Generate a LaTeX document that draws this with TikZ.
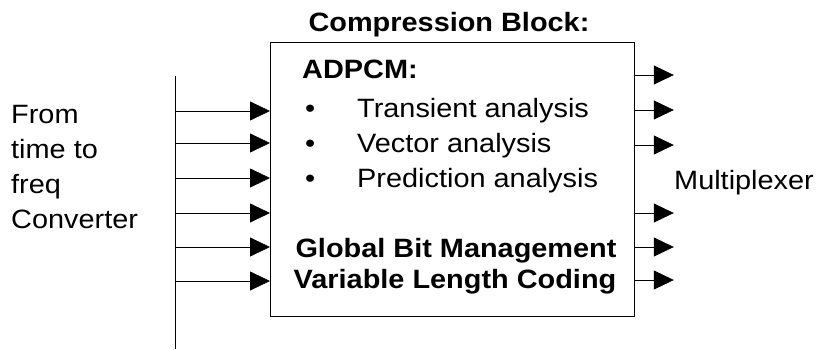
\documentclass[tikz,border=0pt]{standalone}
\usepackage{fontspec}
\setmainfont[FakeStretch=1.09]{Liberation Sans}
\usetikzlibrary{arrows.meta}
\tikzset{
  sig/.style={line width=0.8pt,-{Triangle[length=20pt,width=19pt]}},
  lbl/.style={anchor=base west,inner sep=0pt},
  bold/.style={anchor=base,inner sep=0pt,font=\fontsize{26.5}{30}\selectfont\bfseries},
}
\begin{document}
\begin{tikzpicture}[x=1pt,y=-1pt,font=\fontsize{26.5}{30}\selectfont]
\useasboundingbox (0,0) rectangle (818,349);
% bus line and block
\draw[line width=0.8pt] (175,76) coordinate(bt) -- (175,349) coordinate(bb);
\node[draw,line width=0.8pt,minimum width=364pt,minimum height=274pt,anchor=north west,inner sep=0pt] (cb) at (270,42) {};
% inputs
\foreach \y in {111,143,178,213,247,281}
  \draw[sig] (bt |- 0,\y) -- (cb.west |- 0,\y);
% outputs
\foreach \y in {75,110,145,213,247,280}
  \draw[sig] (cb.east |- 0,\y) -- ++(39,0);
% texts
\node[bold] (title) at (449,31) {Compression Block:};
\node[lbl,font=\fontsize{26.5}{30}\selectfont\bfseries] (adpcm) at (302,78) {ADPCM:};
\node[lbl] (b1) at (305,117) {•};
\node[lbl] (tr) at (357,117) {Transient analysis};
\node[lbl] (b2) at (305,152) {•};
\node[lbl] (ve) at (357,152) {Vector analysis};
\node[lbl] (b3) at (305,187) {•};
\node[lbl] (pr) at (357,187) {Prediction analysis};
\node[bold] (gb) at (456,257) {Global Bit Management};
\node[bold] (vl) at (455,288) {Variable Length Coding};
\node[lbl] (from) at (11,123) {From};
\node[lbl] (time) at (11,158) {time to};
\node[lbl] (freq) at (11,193) {freq};
\node[lbl] (conv) at (11,228) {Converter};
\node[lbl] (mux) at (674,189) {Multiplexer};
\end{tikzpicture}
\end{document}
